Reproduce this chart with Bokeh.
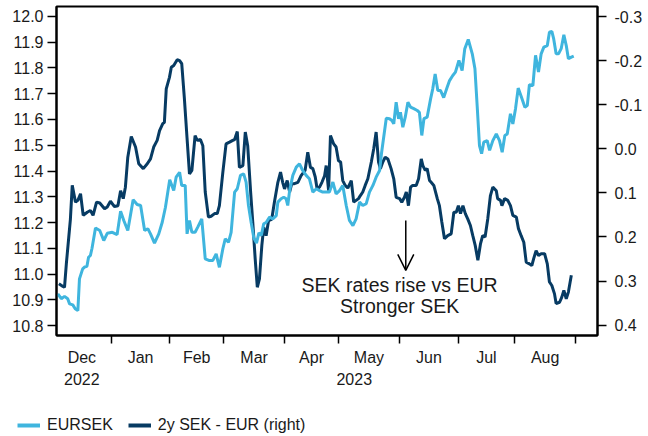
import numpy as np
from bokeh.plotting import figure
from bokeh.models import (Range1d, LinearAxis, FixedTicker, Label, Legend, LegendItem,
                          Arrow, OpenHead, NumeralTickFormatter)
from bokeh.embed import file_html
from bokeh.resources import INLINE

# ---------------- data ----------------
# x: business days counted from 1 Dec 2022 (index 0)
month_names = ["Dec", "Jan", "Feb", "Mar", "Apr", "May", "Jun", "Jul", "Aug"]
month_bdays = [22, 22, 20, 23, 20, 23, 22, 21, 23]
year_names = ["2022", "2023"]
year_bday = [11, 113]
left_ticks = [10.8, 10.9, 11.0, 11.1, 11.2, 11.3, 11.4, 11.5, 11.6, 11.7, 11.8, 11.9, 12.0]
right_ticks = [-0.3, -0.2, -0.1, 0.0, 0.1, 0.2, 0.3, 0.4]

eursek_bday = [
    2.0, 3.3, 4.5, 5.7, 6.4, 7.6, 8.5, 9.5, 10.1, 11.3,
    12.0, 12.9, 13.5, 14.2, 14.8, 16.1, 17.7, 19.2, 20.5, 22.4,
    24.2, 25.5, 26.7, 28.2, 30.2, 31.7, 33.0, 34.5, 35.7, 36.7,
    38.2, 39.8, 41.1, 42.3, 43.9, 45.4, 46.3, 47.6, 48.4, 49.7,
    50.4, 51.3, 52.2, 53.4, 54.4, 55.9, 57.2, 58.8, 60.0, 61.3,
    62.5, 63.8, 64.7, 65.9, 66.9, 68.2, 69.2, 70.4, 71.6, 72.5,
    73.4, 74.4, 75.4, 76.4, 77.3, 78.2, 79.1, 80.0, 81.3, 82.5,
    83.8, 84.4, 85.6, 86.6, 87.5, 88.1, 88.8, 90.0, 91.3, 92.5,
    93.7, 95.0, 96.2, 97.5, 98.8, 100.0, 101.2, 102.5, 103.7, 105.0,
    106.2, 107.5, 108.7, 110.0, 111.2, 112.5, 113.7, 115.0, 116.2, 117.5,
    118.7, 120.0, 121.2, 122.5, 123.2, 125.0, 126.2, 127.1, 127.8, 128.7,
    129.6, 130.3, 131.2, 132.1, 133.1, 134.1, 135.3, 136.6, 137.4, 138.3,
    139.1, 140.3, 141.6, 142.4, 143.3, 144.3, 145.3, 146.5, 147.8, 148.7,
    149.9, 150.9, 152.2, 153.4, 154.4, 155.7, 157.2, 158.2, 159.1, 159.9,
    160.7, 161.5, 162.8, 163.7, 164.9, 166.2, 167.4, 168.4, 169.4, 170.3,
    171.5, 172.4, 173.4, 174.4, 175.6, 176.9, 177.8, 178.6, 179.9, 180.9,
    182.0, 183.0, 184.0, 185.3, 186.1, 187.0, 187.7, 188.6, 189.5, 190.5,
    191.5, 192.4, 193.2, 194.3, 195.2,
]
eursek = [
    10.923, 10.904, 10.913, 10.904, 10.884, 10.880, 10.865, 10.858, 10.981, 11.020,
    11.027, 11.030, 11.065, 11.072, 11.100, 11.179, 11.169, 11.130, 11.158, 11.162,
    11.153, 11.244, 11.208, 11.169, 11.288, 11.270, 11.266, 11.169, 11.176, 11.156,
    11.120, 11.156, 11.201, 11.259, 11.366, 11.324, 11.376, 11.395, 11.344, 11.344,
    11.156, 11.208, 11.162, 11.162, 11.182, 11.214, 11.059, 11.052, 11.052, 11.078,
    11.026, 11.098, 11.137, 11.123, 11.162, 11.318, 11.331, 11.383, 11.389, 11.357,
    11.266, 11.200, 11.140, 11.120, 11.160, 11.150, 11.195, 11.200, 11.221, 11.214,
    11.227, 11.279, 11.292, 11.298, 11.292, 11.266, 11.324, 11.383, 11.415, 11.428,
    11.402, 11.383, 11.370, 11.318, 11.331, 11.324, 11.318, 11.318, 11.318, 11.357,
    11.311, 11.324, 11.344, 11.266, 11.208, 11.188, 11.214, 11.279, 11.266, 11.273,
    11.318, 11.344, 11.376, 11.402, 11.468, 11.605, 11.603, 11.596, 11.583, 11.667,
    11.603, 11.628, 11.570, 11.609, 11.667, 11.648, 11.642, 11.635, 11.628, 11.538,
    11.603, 11.609, 11.680, 11.719, 11.777, 11.713, 11.713, 11.685, 11.725, 11.751,
    11.771, 11.784, 11.829, 11.790, 11.875, 11.911, 11.855, 11.797, 11.642, 11.499,
    11.467, 11.512, 11.518, 11.480, 11.518, 11.544, 11.518, 11.473, 11.538, 11.544,
    11.622, 11.583, 11.642, 11.722, 11.687, 11.648, 11.654, 11.735, 11.732, 11.849,
    11.784, 11.855, 11.881, 11.887, 11.939, 11.942, 11.913, 11.855, 11.855, 11.875,
    11.929, 11.887, 11.836, 11.842, 11.846,
]

spread_bday = [
    2.4, 3.9, 4.5, 5.2, 6.1, 6.7, 7.4, 8.6, 9.5, 10.5,
    11.5, 13.0, 14.2, 15.2, 16.5, 17.7, 19.5, 20.5, 21.7, 23.2,
    24.5, 25.5, 26.5, 27.3, 28.2, 29.5, 31.1, 32.3, 34.0, 35.5,
    36.7, 37.9, 39.2, 40.1, 41.3, 41.9, 42.6, 43.8, 44.5, 45.4,
    46.7, 47.6, 48.4, 49.4, 50.4, 51.3, 52.2, 53.4, 54.2, 55.4,
    56.3, 57.2, 58.4, 59.4, 60.7, 61.7, 62.5, 63.8, 65.0, 66.3,
    67.5, 68.2, 69.2, 70.0, 71.3, 72.2, 73.1, 74.2, 75.0, 75.9,
    76.7, 77.5, 78.4, 79.1, 80.0, 80.9, 82.1, 83.1, 84.4, 85.4,
    86.2, 86.9, 87.9, 88.8, 89.6, 90.6, 91.9, 93.1, 94.6, 95.6,
    96.6, 97.5, 98.4, 99.1, 100.0, 100.9, 101.9, 102.5, 103.4, 104.1,
    105.3, 106.2, 107.1, 107.9, 108.7, 109.6, 110.6, 111.9, 112.8, 113.7,
    114.6, 115.3, 116.2, 117.1, 118.1, 119.4, 120.3, 121.2, 122.1, 122.8,
    123.7, 124.6, 125.6, 126.8, 127.8, 128.7, 130.0, 130.8, 131.8, 132.5,
    133.3, 134.1, 134.9, 136.2, 137.1, 138.1, 138.7, 139.6, 140.3, 141.2,
    141.8, 142.8, 144.1, 144.9, 145.8, 146.8, 148.0, 149.3, 150.3, 151.2,
    152.0, 152.8, 153.7, 154.6, 155.5, 156.5, 157.4, 158.3, 159.3, 160.3,
    161.1, 162.0, 163.0, 164.0, 164.9, 166.2, 166.7, 167.8, 168.3, 169.3,
    170.5, 171.5, 172.4, 173.7, 174.5, 175.5, 176.5, 177.4, 178.6, 179.5,
    180.2, 181.1, 182.0, 183.0, 184.3, 185.3, 186.1, 187.0, 188.0, 188.6,
    189.9, 190.7, 191.5, 192.4, 193.2, 194.3,
]
spread_2y = [
    0.306, 0.312, 0.314, 0.260, 0.200, 0.160, 0.083, 0.121, 0.117, 0.102,
    0.151, 0.144, 0.140, 0.151, 0.121, 0.123, 0.136, 0.132, 0.119, 0.131,
    0.129, 0.095, 0.113, 0.087, 0.019, -0.028, -0.004, 0.034, 0.045, 0.034,
    0.023, -0.004, -0.019, -0.041, -0.057, -0.060, -0.136, -0.162, -0.185, -0.189,
    -0.202, -0.200, -0.193, -0.113, -0.023, 0.057, 0.049, -0.030, -0.019, -0.021,
    -0.007, 0.098, 0.155, 0.153, 0.147, 0.147, 0.129, 0.053, -0.011, -0.015,
    -0.019, -0.021, -0.039, 0.042, 0.038, -0.038, -0.007, 0.098, 0.166, 0.249,
    0.314, 0.295, 0.219, 0.178, 0.197, 0.163, 0.160, 0.121, 0.076, 0.053,
    0.076, 0.091, 0.072, 0.098, 0.079, 0.079, 0.076, 0.061, 0.049, 0.008,
    0.042, 0.045, 0.064, 0.091, 0.087, 0.076, 0.061, 0.038, 0.095, -0.030,
    -0.011, -0.004, 0.027, 0.030, 0.072, 0.083, 0.089, 0.072, 0.121, 0.117,
    0.113, 0.106, 0.098, 0.083, 0.068, 0.030, 0.000, -0.038, 0.030, 0.045,
    0.030, 0.019, 0.023, 0.045, 0.068, 0.110, 0.113, 0.121, 0.110, 0.098,
    0.129, 0.087, 0.083, 0.083, 0.068, 0.023, 0.038, 0.049, 0.045, 0.072,
    0.076, 0.083, 0.113, 0.129, 0.166, 0.204, 0.197, 0.193, 0.144, 0.144,
    0.129, 0.147, 0.129, 0.147, 0.159, 0.174, 0.197, 0.219, 0.253, 0.215,
    0.197, 0.200, 0.159, 0.106, 0.087, 0.095, 0.113, 0.117, 0.129, 0.113,
    0.117, 0.129, 0.151, 0.155, 0.181, 0.197, 0.212, 0.257, 0.261, 0.265,
    0.249, 0.231, 0.242, 0.238, 0.238, 0.261, 0.302, 0.310, 0.329, 0.351,
    0.348, 0.337, 0.321, 0.340, 0.325, 0.287,
]

# ---------------- styling ----------------
LIGHT = "#3FB5DE"
DARK = "#073B63"
TXT = "#1a1a1a"
FONT = "Liberation Sans"
TICK_FS = "16px"

month_start = np.concatenate([[0], np.cumsum(month_bdays)]).astype(float)
month_mid = (month_start[:-1] + month_start[1:]) / 2.0

p = figure(width=648, height=414,
           x_range=Range1d(1.5, 204.1), y_range=Range1d(10.7612, 12.0388),
           output_backend="svg", toolbar_location=None,
           min_border_left=56, min_border_right=51, min_border_top=6, min_border_bottom=79)
p.extra_y_ranges = {"spread": Range1d(start=0.4234, end=-0.3227)}
p.background_fill_color = "white"
p.border_fill_color = "white"
p.outline_line_color = "black"
p.outline_line_width = 2
p.xgrid.visible = False
p.ygrid.visible = False

# x axis: minor ticks mark month boundaries, major (invisible) ticks carry month names
xa = p.xaxis[0]
xa.ticker = FixedTicker(ticks=[float(v) for v in month_mid],
                        minor_ticks=[float(v) for v in month_start])
xa.major_label_overrides = {float(v): n for v, n in zip(month_mid, month_names)}
xa.major_tick_line_color = None
xa.major_tick_out = 8
xa.major_tick_in = 0
xa.minor_tick_out = 8
xa.minor_tick_in = 0
xa.minor_tick_line_color = "black"
xa.minor_tick_line_width = 1.5
xa.axis_line_width = 2
xa.axis_line_color = "black"
xa.major_label_standoff = 5
xa.major_label_text_font = FONT
xa.major_label_text_font_size = TICK_FS
xa.major_label_text_color = TXT

# year row
ya2 = LinearAxis()
ya2.ticker = FixedTicker(ticks=[float(v) for v in year_bday])
ya2.major_label_overrides = {float(v): n for v, n in zip(year_bday, year_names)}
ya2.axis_line_color = None
ya2.major_tick_line_color = None
ya2.minor_tick_line_color = None
ya2.major_tick_out = 0
ya2.major_tick_in = 0
ya2.major_label_standoff = 4
ya2.major_label_text_font = FONT
ya2.major_label_text_font_size = TICK_FS
ya2.major_label_text_color = TXT
p.add_layout(ya2, "below")

ya = p.yaxis[0]
ya.ticker = FixedTicker(ticks=left_ticks)
ya.formatter = NumeralTickFormatter(format="0.0")
ya.major_tick_out = 9
ya.major_tick_in = 0
ya.minor_tick_line_color = None
ya.axis_line_width = 2
ya.major_tick_line_width = 1.5
ya.major_label_standoff = 4
ya.major_label_text_font = FONT
ya.major_label_text_font_size = TICK_FS
ya.major_label_text_color = TXT

ra = LinearAxis(y_range_name="spread")
ra.ticker = FixedTicker(ticks=right_ticks)
ra.formatter = NumeralTickFormatter(format="0.0")
ra.major_tick_out = 9
ra.major_tick_in = 0
ra.minor_tick_line_color = None
ra.axis_line_width = 2
ra.major_tick_line_width = 1.5
ra.major_label_standoff = 8
ra.major_label_text_font = FONT
ra.major_label_text_font_size = TICK_FS
ra.major_label_text_color = TXT
p.add_layout(ra, "right")

# lines
r_sp = p.line(spread_bday, spread_2y, y_range_name="spread", line_color=DARK, line_width=3)
r_eur = p.line(eursek_bday, eursek, line_color=LIGHT, line_width=3)

# annotation
p.add_layout(Label(x=130, y=10.959, text="SEK rates rise vs EUR", text_align="center",
                   text_baseline="middle", text_font=FONT, text_font_size="19.5px",
                   text_color=TXT))
p.add_layout(Label(x=130, y=10.874, text="Stronger SEK", text_align="center",
                   text_baseline="middle", text_font=FONT, text_font_size="19.5px",
                   text_color=TXT))
p.add_layout(Arrow(end=OpenHead(size=16, line_width=1.5, line_color="black"),
                   x_start=132.3, y_start=11.208, x_end=132.3, y_end=11.014,
                   line_width=1.5, line_color="black"))

# legend strip: separate root below the chart (series drawn there fall outside its view)
lf = figure(width=648, height=22, x_range=Range1d(0, 1), y_range=Range1d(0, 1),
            x_axis_type=None, y_axis_type=None, output_backend="svg",
            toolbar_location=None, min_border=0)
lf.outline_line_color = None
lf.grid.visible = False
lf.background_fill_color = "white"
lf.border_fill_color = "white"
g1 = lf.line(eursek_bday, eursek, line_color=LIGHT, line_width=4)
g2 = lf.line(spread_bday, spread_2y, line_color=DARK, line_width=4)
legend = Legend(items=[LegendItem(label="EURSEK", renderers=[g1]),
                       LegendItem(label="2y SEK - EUR (right)", renderers=[g2])],
                location=(17, 2), orientation="horizontal",
                border_line_color=None, background_fill_alpha=0,
                padding=0, margin=0, spacing=15, glyph_width=23, glyph_height=18,
                label_standoff=7, label_height=18,
                label_text_font=FONT, label_text_font_size="16px", label_text_color=TXT)
lf.add_layout(legend)

open("out.html", "w").write(file_html([p, lf], INLINE))
